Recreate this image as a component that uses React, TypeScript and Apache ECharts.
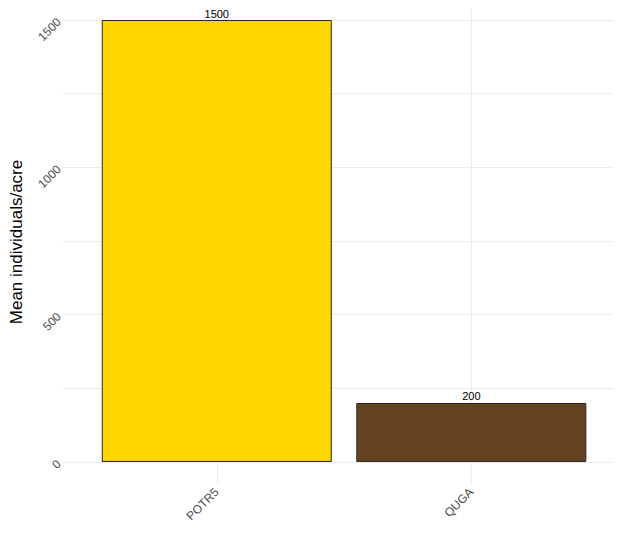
import React, { useEffect, useRef } from "react";
import * as echarts from "echarts";

const categories = ["POTR5", "QUGA"];
const values = [1500, 200];
const barColors = ["#FFD700", "#654321"];
const yTickLabels = [0, 500, 1000, 1500];
const yGridValues = [0, 250, 500, 750, 1000, 1250, 1500];
const xPositions = [1, 2];

export default function App() {
  const ref = useRef<HTMLDivElement>(null);
  useEffect(() => {
    if (!ref.current) return;
    const chart = echarts.init(ref.current, null, { renderer: "svg" });
    const font = "Liberation Sans, Arial, sans-serif";
    chart.setOption({
      animation: false,
      backgroundColor: "#ffffff",
      grid: { left: 62, right: 0, top: 0, bottom: 49, containLabel: false },
      xAxis: {
        type: "value",
        min: 0.396,
        max: 2.588,
        axisLine: { show: false },
        axisTick: { show: false, customValues: xPositions },
        axisLabel: {
          customValues: xPositions,
          formatter: (v: number) => categories[Math.round(v) - 1] ?? "",
          rotate: 45,
          color: "#4D4D4D",
          fontSize: 12,
          fontFamily: font,
          margin: 6,
        },
        splitLine: { show: true, lineStyle: { color: "#EBEBEB", width: 1 } },
      },
      yAxis: {
        type: "value",
        min: -75,
        max: 1568,
        name: "Mean individuals/acre",
        nameLocation: "middle",
        nameGap: 38,
        nameTextStyle: { color: "#000000", fontSize: 17, fontFamily: font },
        axisLine: { show: false },
        axisTick: { show: false, customValues: yGridValues },
        axisLabel: {
          customValues: yTickLabels,
          formatter: (v: number) => String(v),
          rotate: 45,
          color: "#4D4D4D",
          fontSize: 12,
          fontFamily: font,
          margin: 4,
        },
        splitLine: { show: true, lineStyle: { color: "#EBEBEB", width: 1 } },
      },
      series: [
        {
          type: "bar",
          barWidth: 230,
          data: values.map((v, i) => ({
            value: [xPositions[i], v],
            itemStyle: { color: barColors[i] },
          })),
          itemStyle: { borderColor: "#222222", borderWidth: 1 },
          label: {
            show: true,
            position: "top",
            distance: 1,
            color: "#000000",
            fontSize: 11,
            fontFamily: font,
            formatter: (p: any) => String(p.value[1]),
          },
        },
      ],
    });
    return () => chart.dispose();
  }, []);
  return <div ref={ref} style={{ width: 621, height: 533, margin: -8 }} />;
}
